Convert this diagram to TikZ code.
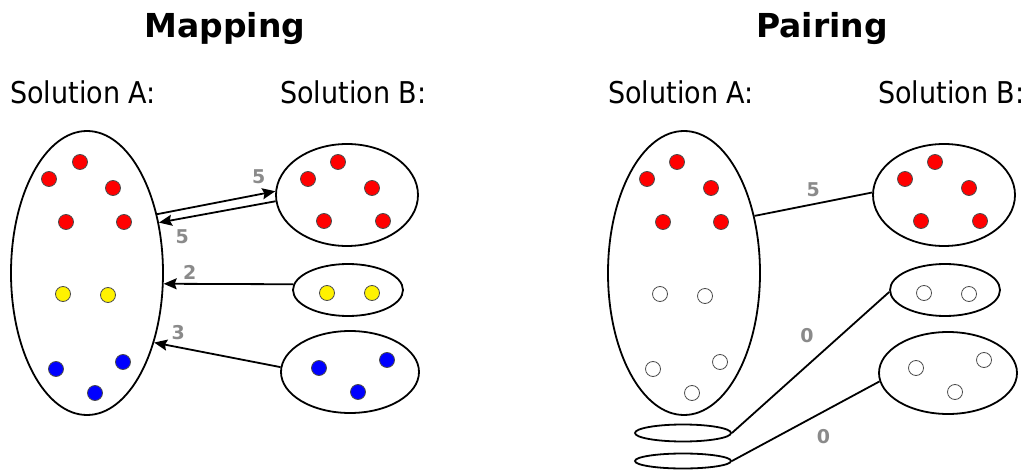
\documentclass[tikz,border=0pt]{standalone}
\usepackage{fontspec}
\setmainfont{DejaVu Sans}
\newfontfamily\condfont{DejaVu Sans Condensed}
\usetikzlibrary{shapes.geometric,arrows.meta,positioning}
\definecolor{scoregray}{HTML}{8A8A8A}
\tikzset{
    sol-set/.style = {draw, ellipse, line width=1.8pt, inner sep=0pt},
    dot/.style = {circle, draw=black!70, line width=0.8pt, fill=#1, minimum size=15pt, inner sep=0pt},
    title/.style = {font=\bfseries\fontsize{33}{40}\selectfont, inner sep=0pt, anchor=base},
    sol-label/.style = {font=\condfont\fontsize{30}{36}\selectfont, inner sep=0pt, anchor=base west},
    score/.style = {text=scoregray, font=\bfseries\fontsize{19}{23}\selectfont, inner sep=1pt},
    link/.style = {line width=1.8pt},
    map-arrow/.style = {link, -{Stealth[length=13pt, width=11pt, inset=2pt]}},
}

\begin{document}
\begin{tikzpicture}[x=1pt, y=-1pt]
\useasboundingbox (0,0) rectangle (1025,470);

% titles
\node[title] (map-title) at (225,38) {Mapping};
\node[title] (pair-title) at (822,38) {Pairing};
\node[sol-label] (map-a) at (10,104) {Solution A:};
\node[sol-label] (map-b) at (280,104) {Solution B:};
\node[sol-label] (pair-a) at (608,104) {Solution A:};
\node[sol-label] (pair-b) at (878,104) {Solution B:};

% mapping: sets
\node[sol-set, minimum width=152pt, minimum height=284pt] (mA) at (87,273) {};
\node[sol-set, minimum width=142pt, minimum height=102pt] (mB1) at (347,195) {};
\node[sol-set, minimum width=110pt, minimum height=52pt] (mB2) at (348,290) {};
\node[sol-set, minimum width=138pt, minimum height=82pt] (mB3) at (350,372) {};

% mapping: elements
\foreach \x/\y [count=\i] in {80/162, 49/179, 113/188, 66/222, 124/222}
    \node[dot=red] (mA-r\i) at (\x,\y) {};
\foreach \x/\y [count=\i] in {63/294, 108/295}
    \node[dot=yellow] (mA-y\i) at (\x,\y) {};
\foreach \x/\y [count=\i] in {56/369, 123/362, 95/393}
    \node[dot=blue] (mA-b\i) at (\x,\y) {};
\foreach \x/\y [count=\i] in {338/162, 308/179, 372/188, 324/221, 383/221}
    \node[dot=red] (mB-r\i) at (\x,\y) {};
\foreach \x/\y [count=\i] in {327/293, 372/293}
    \node[dot=yellow] (mB-y\i) at (\x,\y) {};
\foreach \x/\y [count=\i] in {319/368, 387/360, 358/392}
    \node[dot=blue] (mB-b\i) at (\x,\y) {};

% mapping: arrows
\draw[map-arrow] (mA.40) -- (mB1.177) node[score, pos=.86, above=9pt] (s1) {5};
\draw[map-arrow] (mB1.185) -- (mA.35) node[score, pos=.8, below=9pt] (s2) {5};
\draw[map-arrow] (mB2.174) -- (mA.-8) node[score, pos=.8, above=2pt] (s3) {2};
\draw[map-arrow] (mB3.176) -- (mA.-46) node[score, pos=.81, above=6pt] (s4) {3};

% pairing: sets
\node[sol-set, minimum width=152pt, minimum height=284pt] (pA) at (684,273) {};
\node[sol-set, minimum width=142pt, minimum height=102pt] (pB1) at (944,195) {};
\node[sol-set, minimum width=110pt, minimum height=52pt] (pB2) at (945,290) {};
\node[sol-set, minimum width=138pt, minimum height=82pt] (pB3) at (948,373) {};
\node[sol-set, minimum width=96pt, minimum height=17pt] (pE1) at (683,433) {};
\node[sol-set, minimum width=96pt, minimum height=15pt] (pE2) at (683,461) {};

% pairing: elements
\foreach \x/\y [count=\i] in {677/162, 647/179, 711/188, 663/222, 721/222}
    \node[dot=red] (pA-r\i) at (\x,\y) {};
\foreach \x/\y [count=\i] in {660/294, 705/296, 653/369, 720/362, 692/393}
    \node[dot=white] (pA-w\i) at (\x,\y) {};
\foreach \x/\y [count=\i] in {935/162, 905/179, 969/188, 921/221, 980/221}
    \node[dot=red] (pB-r\i) at (\x,\y) {};
\foreach \x/\y [count=\i] in {924/293, 969/294}
    \node[dot=white] (pB-w\i) at (\x,\y) {};
\foreach \x/\y [count=\i] in {916/368, 984/360, 955/392}
    \node[dot=white] (pB-v\i) at (\x,\y) {};

% pairing: links
\draw[link] (pA.39) -- (pB1.178) node[score, pos=.5, above=6pt] (s5) {5};
\draw[link] (pE1.east) -- (pB2.182) node[score, pos=.575, above left=7pt and 7pt] (s6) {0};
\draw[link] (pE2.east) -- (pB3.187) node[score, pos=.536, below right=9pt and 4pt] (s7) {0};
\end{tikzpicture}
\end{document}
